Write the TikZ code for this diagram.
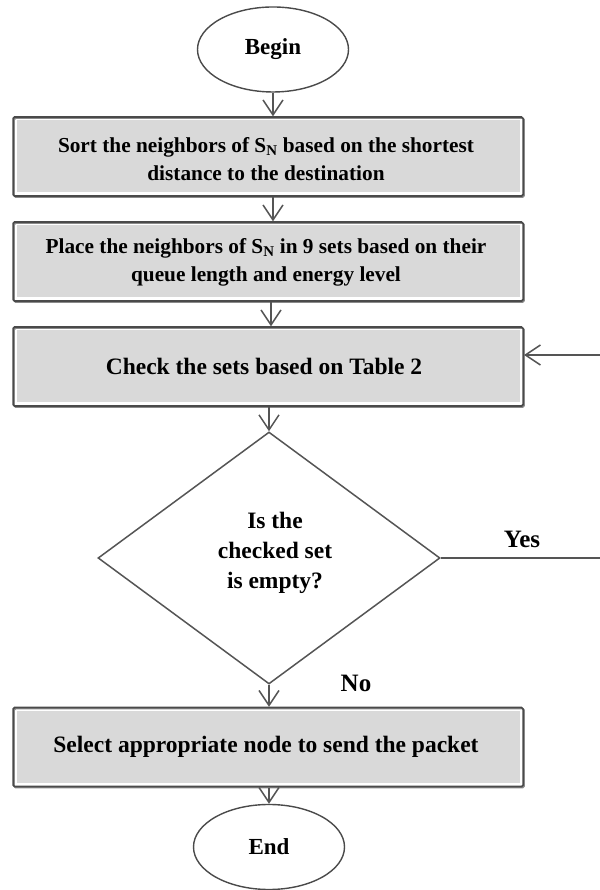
\documentclass[tikz,border=0pt]{standalone}
\usepackage{fontspec}
\setmainfont{Liberation Serif}
\usetikzlibrary{shapes.geometric,arrows.meta,calc}

\definecolor{boxfill}{HTML}{D9D9D9}
\definecolor{framecol}{HTML}{4A4A4A}
\definecolor{linecol}{HTML}{555555}
\definecolor{shadecol}{HTML}{8A8A8A}

\tikzset{
  base/.style={font=\bfseries, text=black, align=center, inner sep=0pt},
  terminal/.style={ellipse, draw=framecol, line width=1.4pt, fill=white,
    minimum width=151pt, minimum height=85pt, inner sep=0pt,
    font=\fontsize{23}{28}\selectfont\bfseries},
  stepbox/.style={rectangle, fill=boxfill, draw=none, inner sep=0pt,
    minimum width=503pt, minimum height=72pt},
  boxframe/.style={draw=framecol, line width=1.7pt, rounded corners=1.5pt},
  boxshade/.style={draw=shadecol, line width=1.7pt, rounded corners=1.5pt},
  decision/.style={diamond, draw=linecol, line width=1.5pt, fill=white,
    minimum width=342pt, minimum height=252pt, inner sep=0pt},
  arr/.style={draw=linecol, line width=1.5pt,
    -{Straight Barb[length=15pt,width=20pt,line width=1.5pt]}},
  flow/.style={draw=linecol, line width=1.5pt},
  small/.style={base, font=\fontsize{21.3}{28}\selectfont\bfseries},
  large/.style={base, font=\fontsize{23.5}{30}\selectfont\bfseries},
  answer/.style={base, font=\fontsize{25}{30}\selectfont\bfseries},
}

\begin{document}
\begin{tikzpicture}[x=1pt,y=1pt]
  \useasboundingbox (0,0) rectangle (599,890);

  % terminals
  \node[terminal] (begin) at (273,840.5) {Begin};
  \node[terminal] (end) at (269,43) {End};

  % process boxes
  \node[stepbox] (s1) at (268,733.5) {};
  \node[stepbox] (s2) at (268,628.5) {};
  \node[stepbox] (s3) at (268,523.5) {};
  \node[stepbox] (sel) at (268,143) {};

  % framed borders with a slight drop shade
  \foreach \b in {s1,s2,s3,sel}{
    \draw[boxshade] ([shift={(-2.2pt,2.2pt)}]\b.north west)
      rectangle ([shift={(4.4pt,-4.4pt)}]\b.south east);
    \draw[boxframe] ([shift={(-3.2pt,3.2pt)}]\b.north west)
      rectangle ([shift={(3.4pt,-3.4pt)}]\b.south east);
  }

  % box texts
  \node[small] (t1) at (266,731) {Sort the neighbors of S\textsubscript{N} based on the shortest\\distance to the destination};
  \node[small] (t2) at (266,627.5) {Place the neighbors of S\textsubscript{N} in 9 sets based on their\\queue length and energy level};
  \node[large] (t3) at (264,523.5) {Check the sets based on Table 2};
  \node[large] (t4) at (266,143) {Select appropriate node to send the packet};

  % decision
  \node[decision] (dia) at (269,332) {};
  \node[large] (q) at (275,337) {Is the\\checked set\\is empty?};

  % branch labels
  \node[answer] (yes) at (522,351) {Yes};
  \node[answer] (no) at (356,207) {No};

  % main flow
  \draw[arr] (begin.south) -- ([yshift=4pt]s1.north -| begin.south);
  \draw[arr] ([yshift=-4.5pt]s1.south -| begin.south) -- ([yshift=4pt]s2.north -| begin.south);
  \draw[arr] ([yshift=-4.5pt]s2.south -| 271,0) -- ([yshift=4pt]s3.north -| 271,0);
  \draw[arr] ([yshift=-4.5pt]s3.south -| dia.north) -- (dia.north);
  \draw[arr] (dia.south) -- ([yshift=4pt]sel.north -| dia.south);
  \draw[arr] ([yshift=-4.5pt]sel.south -| end.north) -- (end.north);

  % loop back when the checked set is empty
  \coordinate (fb) at (602,535);
  \draw[flow] (dia.east) -- (dia.east -| fb) -- (fb);
  \draw[arr] (fb) -- ([xshift=4.4pt]s3.east |- fb);
\end{tikzpicture}
\end{document}
